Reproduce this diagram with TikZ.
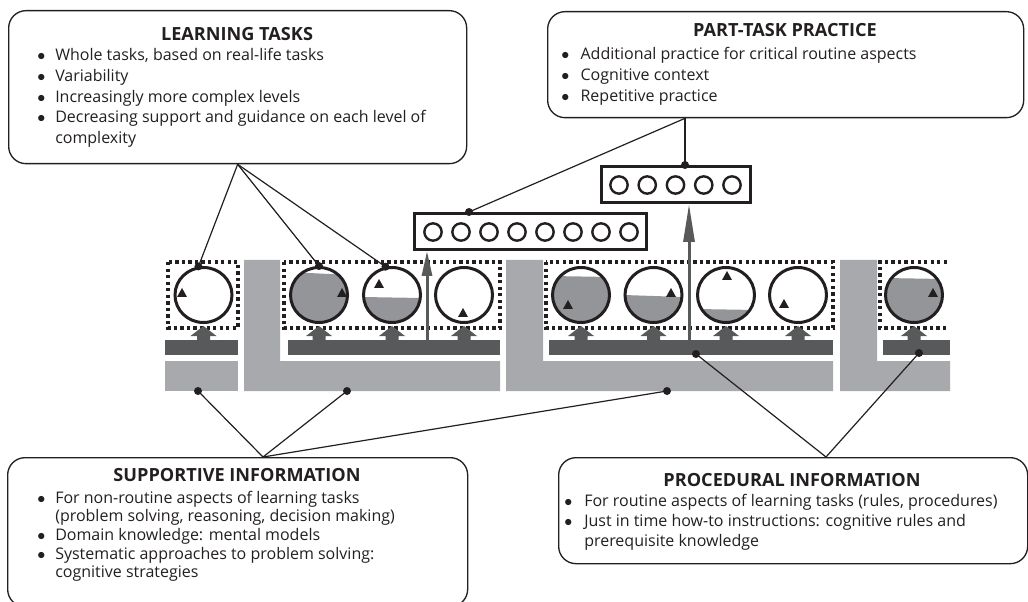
\documentclass[tikz,border=0pt]{standalone}
\usepackage{fontspec}
\setmainfont{Open Sans}
\usetikzlibrary{arrows.meta,shapes.geometric,calc}
\definecolor{barcol}{HTML}{58595B}
\definecolor{railcol}{HTML}{A7A9AC}
\definecolor{levelcol}{HTML}{939598}
\definecolor{inkcol}{HTML}{231F20}
\tikzset{
  infobox/.style={draw=inkcol,line width=1pt,rounded corners=13pt,anchor=north west,inner sep=0pt},
  head/.style={anchor=base,inner sep=0pt,text=inkcol,font=\fontsize{13.6}{16}\selectfont\bfseries},
  items/.style={anchor=base west,inner sep=0pt,text=inkcol,font=\fontsize{12}{15.4}\selectfont},
  task/.style={ellipse,draw=inkcol,line width=2.25pt,minimum width=42.75pt,minimum height=41.25pt,inner sep=0pt},
  slots/.style={draw=inkcol,line width=2.25pt,minimum height=27pt,inner sep=0pt},
  slot/.style={circle,draw=inkcol,line width=1.8pt,minimum size=13pt,inner sep=0pt},
  dotbox/.style={draw=inkcol,line width=2.5pt,dash pattern=on 2.5pt off 2.4pt},
  riser/.style={draw=barcol,line width=2.25pt},
  link/.style={draw=inkcol,line width=0.9pt},
  dot/.style={circle,fill=inkcol,inner sep=0pt,minimum size=6pt}
}
\begin{document}
\begin{tikzpicture}[x=0.75pt,y=-0.75pt]
\useasboundingbox (0,0) rectangle (1028,602);

% rails (supportive) and bars (procedural)
\fill[railcol] (165,361) rectangle (238,391);
\fill[railcol] (244,260) -- (280,260) -- (280,361) -- (500,361) -- (500,391) -- (244,391) -- cycle;
\fill[railcol] (506,260) -- (543,260) -- (543,361) -- (833,361) -- (833,391) -- (506,391) -- cycle;
\fill[railcol] (840,260) -- (877,260) -- (877,361) -- (950,361) -- (950,391) -- (840,391) -- cycle;
\fill[barcol] (165,340) rectangle (238,355);
\fill[barcol] (288,340) rectangle (500,355);
\fill[barcol] (549,340) rectangle (833,355);
\fill[barcol] (883,340) rectangle (950,355);

% task classes
\draw[dotbox] (168,262) rectangle (238,328);
\draw[dotbox] (284,262) rectangle (500,328);
\draw[dotbox] (546,262) rectangle (833,328);
\draw[dotbox] (947,262) -- (880,262) -- (880,328) -- (947,328);

% learning tasks
\foreach \n/\cx/\fl/\fr/\tx/\ty in {1/203.5/330/330/182/293, 2/319/272/275/342/293, 3/392/297/298/379/284,
    4/464/330/330/463/313, 5/581/276/277/568/305, 6/653.5/295/297/671/293, 7/726/309/310/727/276,
    8/798/330/330/784/304, 9/914/278/279/933/293}{
  \begin{scope}
    \clip (\cx,295) ellipse [x radius=28.5,y radius=27.5];
    \fill[levelcol] (\cx-30,\fl) -- (\cx+30,\fr) -- (\cx+30,325) -- (\cx-30,325) -- cycle;
  \end{scope}
  \node[task] (c\n) at (\cx,295) {};
  \fill[inkcol] (\tx-5,\ty+4) -- (\tx+5,\ty+4) -- (\tx,\ty-5) -- cycle;
  \fill[barcol] (\cx-6.5,341) -- (\cx-6.5,336) -- (\cx-13,336) -- (\cx,326) -- (\cx+13,336) -- (\cx+6.5,336) -- (\cx+6.5,341) -- cycle;
}

% part-task practice
\node[slots,minimum width=174pt] (b8) at (530.5,231.5) {};
\foreach \i in {0,...,7} \node[slot] at (433+28*\i,232) {};
\node[slots,minimum width=111.75pt] (b5) at (676,184.5) {};
\foreach \i in {0,...,4} \node[slot] at (619+28.25*\i,185) {};
\coordinate (rise2) at (427,341);
\coordinate (rise3) at (689,341);
\draw[riser,-{Triangle[length=18.75pt,width=7.5pt]}] (rise2) -- (rise2 |- b8.south);
\draw[riser,-{Triangle[length=28.5pt,width=8.25pt]}] (rise3) -- (rise3 |- b5.south);

% the four components
\node[infobox,minimum width=343.5pt,minimum height=114.75pt] (lt) at (8,10) {};
\node[head] (ltt) at (237,41) {LEARNING TASKS};
\node[items] (ltl) at (37,61) {\begin{tabular}[t]{@{}p{13.5pt}@{}l@{}}
$\bullet$ & Whole tasks, based on real-life tasks\\
$\bullet$ & Variability\\
$\bullet$ & Increasingly more complex levels\\
$\bullet$ & Decreasing support and guidance on each level of\\
 & complexity
\end{tabular}};

\node[infobox,minimum width=357pt,minimum height=79.5pt] (pt) at (547,11) {};
\node[head] (ptt) at (785,37) {PART-TASK PRACTICE};
\node[items] (ptl) at (561,60) {\begin{tabular}[t]{@{}p{14.5pt}@{}l@{}}
$\bullet$ & Additional practice for critical routine aspects\\
$\bullet$ & Cognitive context\\
$\bullet$ & Repetitive practice
\end{tabular}};

\node[infobox,minimum width=345pt,minimum height=111.75pt] (si) at (7,457) {};
\node[head] (sit) at (237,481) {SUPPORTIVE INFORMATION};
\node[items,font=\fontsize{12}{14}\selectfont] (sil) at (37,503) {\begin{tabular}[t]{@{}p{13.5pt}@{}l@{}}
$\bullet$ & For non-routine aspects of learning tasks\\
 & (problem solving, reasoning, decision making)\\
$\bullet$ & Domain knowledge: mental models\\
$\bullet$ & Systematic approaches to problem solving:\\
 & cognitive strategies
\end{tabular}};

\node[infobox,minimum width=351.75pt,minimum height=79.5pt] (pi) at (558,457) {};
\node[head] (pit) at (792,486) {PROCEDURAL INFORMATION};
\node[items,font=\fontsize{12}{15}\selectfont] (pil) at (564,506) {\begin{tabular}[t]{@{}p{15pt}@{}l@{}}
$\bullet$ & For routine aspects of learning tasks (rules, procedures)\\
$\bullet$ & Just in time how-to instructions: cognitive rules and\\
 & prerequisite knowledge
\end{tabular}};

% links
\coordinate (ptapex) at ($(pt.south west)+(138,0)$);
\coordinate (b8top) at ($(b8.north west)+(56,0)$);
\coordinate (siapex) at ($(si.north west)+(256,0)$);
\coordinate (piapex) at ($(pi.north west)+(268,0)$);
\coordinate (rail1) at (198,391);
\coordinate (rail2) at (347,391);
\coordinate (rail3) at (667,391);
\coordinate (bar3) at (696,354);
\coordinate (bar4) at (919,353);

\draw[link] (lt.south) -- (c1.100) node[dot]{};
\draw[link] (lt.south) -- (c2.north) node[dot]{};
\draw[link] (lt.south) -- (c3.103) node[dot]{};
\draw[link] (ptapex) -- (b5.north -| ptapex) node[dot]{};
\draw[link] (ptapex) -- (b8top) node[dot]{};
\draw[link] (siapex) -- (rail1) node[dot]{};
\draw[link] (siapex) -- (rail2) node[dot]{};
\draw[link] (siapex) -- (rail3) node[dot]{};
\draw[link] (piapex) -- (bar3) node[dot]{};
\draw[link] (piapex) -- (bar4) node[dot]{};
\end{tikzpicture}
\end{document}
